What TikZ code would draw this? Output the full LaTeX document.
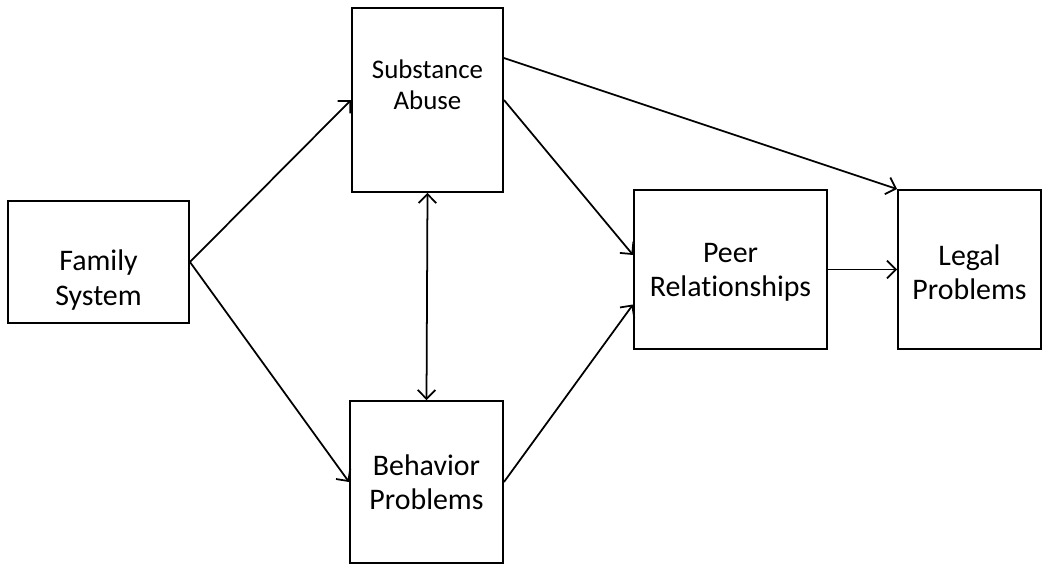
\documentclass[tikz,border=0pt]{standalone}
\usepackage{fontspec}
\setmainfont{Carlito}[Ligatures=NoCommon]
\usetikzlibrary{arrows.meta, positioning}

\begin{document}
\begin{tikzpicture}[
  box/.style={draw=black, line width=1.1pt, fill=white,
              minimum width=#1, inner sep=0pt},
  lbl/.style={align=center, font=\fontsize{17}{19.5}\selectfont},
  arr/.style={-{Straight Barb[length=5pt,width=10pt]}, line width=1pt},
  dbl/.style={{Straight Barb[length=5pt,width=10pt]}-{Straight Barb[length=5pt,width=10pt]}, line width=1pt}
]
\useasboundingbox (0,0) rectangle (21,-11.4);

% Boxes
\node[box=3.62cm, minimum height=2.44cm] (fam)   at (1.97,-5.24)  {};
\node[box=3.02cm, minimum height=3.68cm] (sub)   at (8.55,-2.0)   {};
\node[box=3.06cm, minimum height=3.24cm] (beh)   at (8.53,-9.64)  {};
\node[box=3.86cm, minimum height=3.18cm] (peer)  at (14.61,-5.39) {};
\node[box=2.86cm, minimum height=3.18cm] (legal) at (19.39,-5.39) {};

% Texts
\node[lbl] (famtxt)   at (1.97,-5.60)  {Family\\System};
\node[lbl, font=\fontsize{15.3}{17.5}\selectfont] (subtxt) at (8.55,-1.70) {Substance\\Abuse};
\node[lbl] (behtxt)   at (beh)   {Behavior\\Problems};
\node[lbl] (peertxt)  at (14.61,-5.44) {Peer\\Relationships};
\node[lbl] (legaltxt) at (19.39,-5.44) {Legal\\Problems};

% Connectors
\draw[arr] (fam.east) -- (sub.west);
\draw[arr] (fam.east) -- (beh.west);
\draw[dbl] (sub.south) -- (beh.north);
\draw[arr] (sub.east) -- ([yshift=0.29cm]peer.west);
\draw[arr] (beh.east) -- ([yshift=-0.70cm]peer.west);
\draw[arr] ([yshift=0.84cm]sub.east) -- (legal.north west);
\draw[arr] (peer.east) -- (legal.west);
\end{tikzpicture}
\end{document}
